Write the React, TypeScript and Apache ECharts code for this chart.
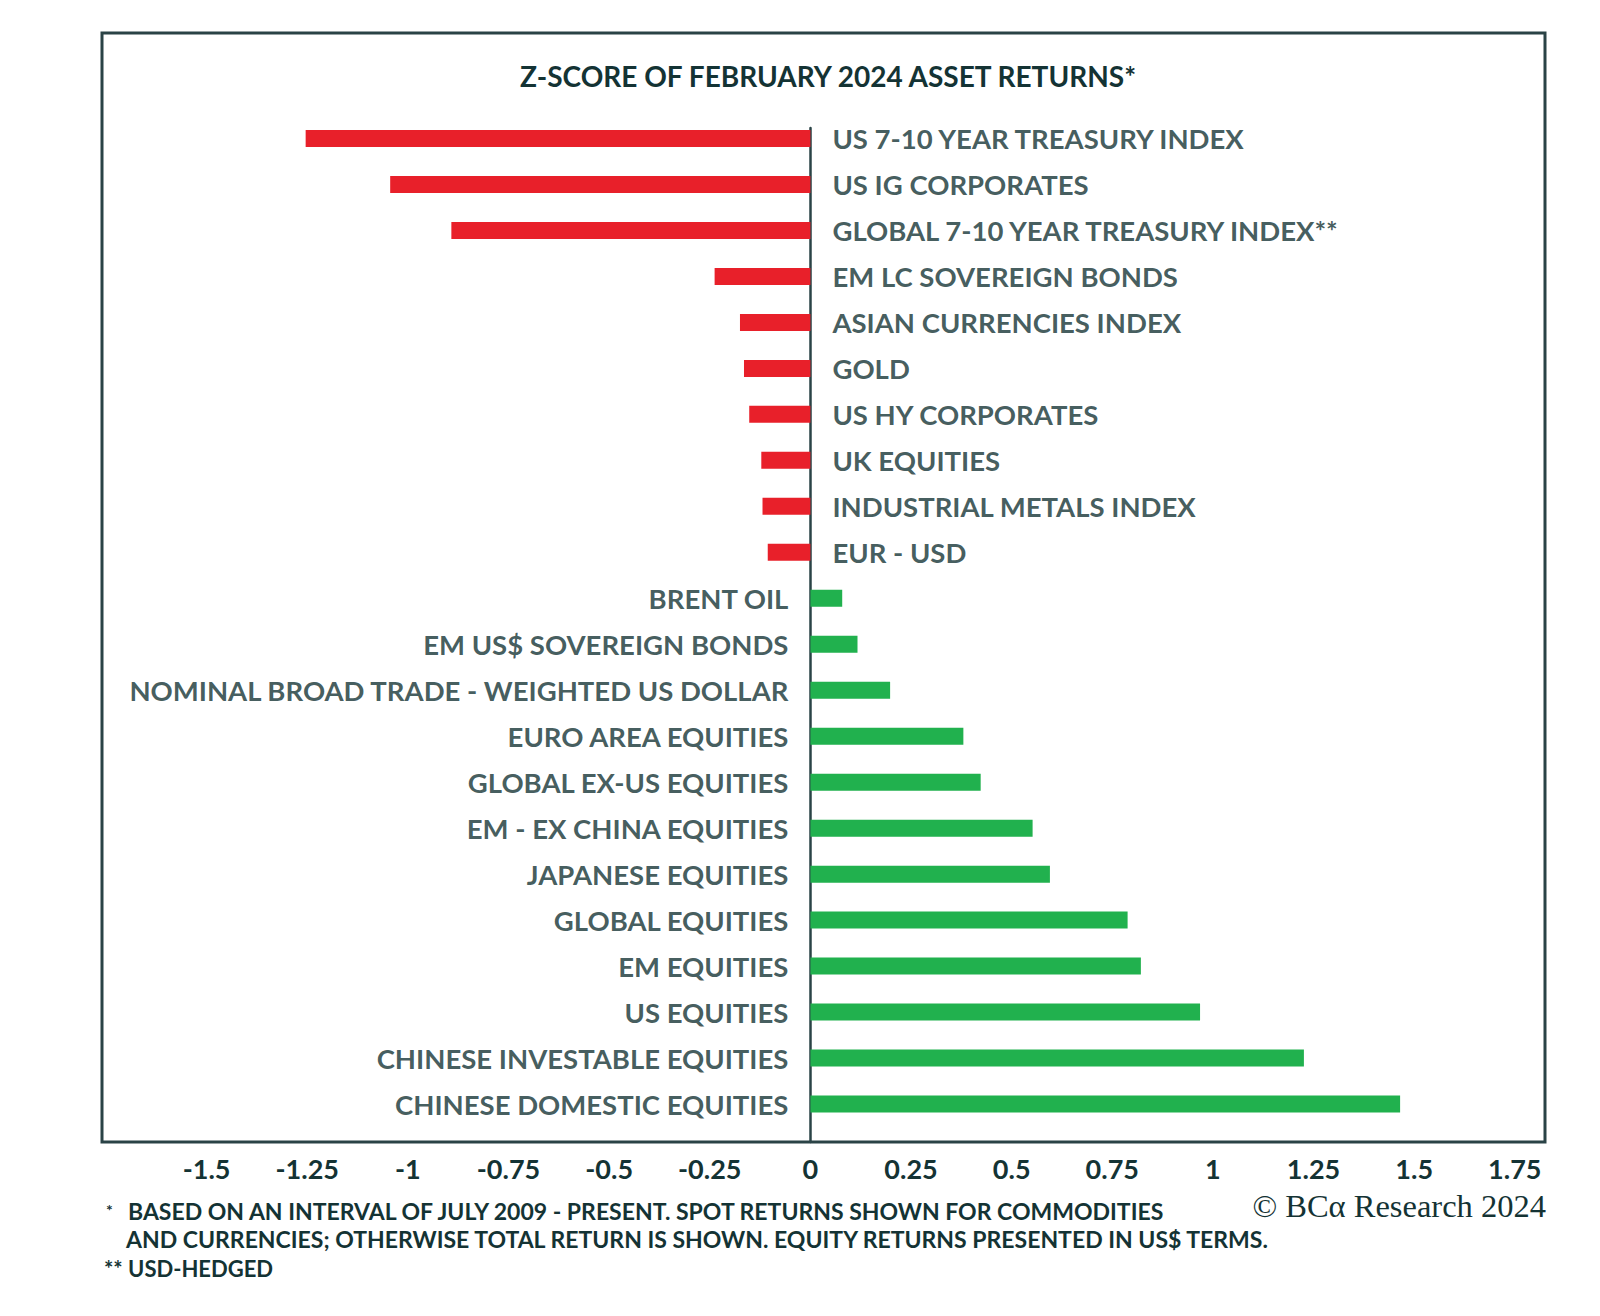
import React, { useEffect, useRef } from "react";
import * as echarts from "echarts";

const categories = [
  "US 7-10 YEAR TREASURY INDEX",
  "US IG CORPORATES",
  "GLOBAL 7-10 YEAR TREASURY INDEX**",
  "EM LC SOVEREIGN BONDS",
  "ASIAN CURRENCIES INDEX",
  "GOLD",
  "US HY CORPORATES",
  "UK EQUITIES",
  "INDUSTRIAL METALS INDEX",
  "EUR - USD",
  "BRENT OIL",
  "EM US$ SOVEREIGN BONDS",
  "NOMINAL BROAD TRADE - WEIGHTED US DOLLAR",
  "EURO AREA EQUITIES",
  "GLOBAL EX-US EQUITIES",
  "EM - EX CHINA EQUITIES",
  "JAPANESE EQUITIES",
  "GLOBAL EQUITIES",
  "EM EQUITIES",
  "US EQUITIES",
  "CHINESE INVESTABLE EQUITIES",
  "CHINESE DOMESTIC EQUITIES",
];

const zScores = [
  -1.254, -1.044, -0.892, -0.238, -0.175, -0.165, -0.152, -0.122, -0.119, -0.106,
  0.079, 0.117, 0.198, 0.38, 0.423, 0.552, 0.595, 0.788, 0.821, 0.968, 1.226, 1.465,
];

const titleText = "Z-SCORE OF FEBRUARY 2024 ASSET RETURNS*";
const footnotes = [
  "BASED ON AN INTERVAL OF JULY 2009 - PRESENT. SPOT RETURNS SHOWN FOR COMMODITIES",
  "AND CURRENCIES; OTHERWISE TOTAL RETURN IS SHOWN. EQUITY RETURNS PRESENTED IN US$ TERMS.",
  "USD-HEDGED",
];
const copyright = "© BCα Research 2024";

const RED = "#e8202a";
const GREEN = "#21b14e";
const DARK = "#143334";
const FRAME = "#2a4346";
const FONT = "Lato";

export default function App() {
  const ref = useRef<HTMLDivElement>(null);
  useEffect(() => {
    if (!ref.current) return;
    const chart = echarts.init(ref.current, null, { renderer: "svg" });
    const option = {
      animation: false,
      backgroundColor: "#ffffff",
      grid: [
        { left: 98, right: 49, top: 107.5, bottom: 181 },
        { left: 98, right: 49, top: 120, bottom: 166 },
      ],
      xAxis: [
        {
          type: "value",
          gridIndex: 0,
          min: -1.75,
          max: 1.82,
          interval: 0.25,
          axisLine: { show: false },
          axisTick: { show: false },
          splitLine: { show: false },
          axisLabel: {
            showMinLabel: false,
            showMaxLabel: false,
            margin: 28,
            color: DARK,
            fontFamily: FONT,
            fontWeight: 700,
            fontSize: 27,
          },
        },
        {
          type: "value",
          gridIndex: 1,
          min: -1.75,
          max: 1.82,
          show: false,
        },
      ],
      yAxis: [
        {
          type: "category",
          gridIndex: 0,
          data: categories,
          inverse: true,
          axisLine: { show: false },
          axisTick: { show: false },
          axisLabel: { show: false },
          splitLine: { show: false },
        },
        {
          type: "value",
          gridIndex: 1,
          min: 0,
          max: 1,
          axisLine: { show: true, onZero: true, lineStyle: { color: FRAME, width: 2.5 } },
          axisTick: { show: false },
          axisLabel: { show: false },
          splitLine: { show: false },
        },
      ],
      series: [
        {
          type: "bar",
          xAxisIndex: 0,
          yAxisIndex: 0,
          barWidth: 17,
          data: zScores.map((v) => ({ value: v, itemStyle: { color: v < 0 ? RED : GREEN } })),
          silent: true,
        },
        {
          type: "scatter",
          xAxisIndex: 0,
          yAxisIndex: 0,
          symbolSize: 0,
          silent: true,
          data: categories.map((c, i) => ({
            value: [0, c],
            label: { position: zScores[i] < 0 ? "right" : "left" },
          })),
          label: {
            show: true,
            distance: 22,
            formatter: (p: any) => categories[p.dataIndex],
            color: DARK,
            fontFamily: FONT,
            fontWeight: 700,
            fontSize: 27.5,
          },
        },
      ],
      graphic: [
        {
          type: "rect",
          shape: { x: 94, y: 25, width: 1443, height: 1109 },
          style: { fill: "none", stroke: FRAME, lineWidth: 3 },
          z: 10,
        },
        {
          type: "text",
          x: 820,
          y: 67.5,
          style: {
            text: titleText,
            fill: DARK,
            font: `700 28px ${FONT}`,
            textAlign: "center",
            textVerticalAlign: "middle",
          },
        },
        {
          type: "text",
          x: 98,
          y: 1201,
          style: { text: "*", fill: DARK, font: `700 16px ${FONT}`, textVerticalAlign: "middle" },
        },
        {
          type: "text",
          x: 120,
          y: 1203,
          style: { text: footnotes[0], fill: DARK, font: `700 23px ${FONT}`, textVerticalAlign: "middle" },
        },
        {
          type: "text",
          x: 118,
          y: 1231,
          style: { text: footnotes[1], fill: DARK, font: `700 23px ${FONT}`, textVerticalAlign: "middle" },
        },
        {
          type: "text",
          x: 96,
          y: 1260,
          style: { text: "** " + footnotes[2], fill: DARK, font: `700 22px ${FONT}`, textVerticalAlign: "middle" },
        },
        {
          type: "text",
          x: 1538,
          y: 1198,
          style: {
            text: copyright,
            fill: DARK,
            font: `400 32.5px "Liberation Serif"`,
            textAlign: "right",
            textVerticalAlign: "middle",
          },
        },
      ],
    };
    chart.setOption(option as any);
    return () => chart.dispose();
  }, []);
  return <div ref={ref} style={{ width: 1584, height: 1300 }} />;
}
